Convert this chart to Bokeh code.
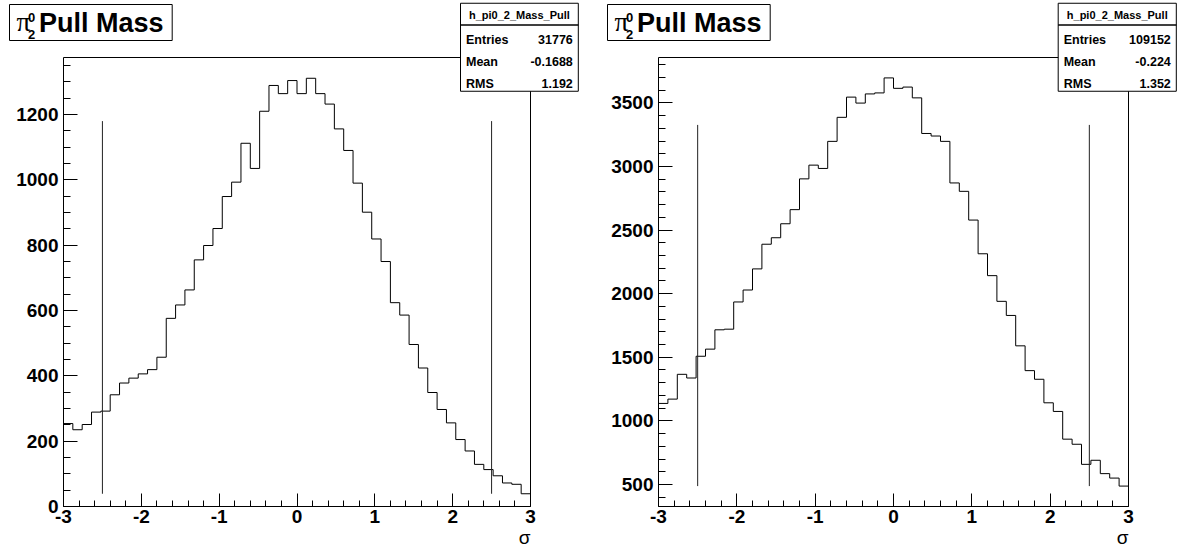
import numpy as np
from bokeh.plotting import figure
from bokeh.models import FixedTicker, Label, BoxAnnotation, Range1d
from bokeh.layouts import row
from bokeh.embed import file_html
from bokeh.resources import INLINE

# ---------------- data ----------------
x_lo, x_hi, n_bins = -3.0, 3.0, 50
counts_left = [254, 235, 251, 289, 292, 342, 378, 393, 406, 419,
               457, 576, 617, 663, 755, 799, 851, 949, 993, 1112,
               1035, 1210, 1289, 1264, 1304, 1264, 1311, 1264, 1232, 1156,
               1090, 990, 901, 819, 750, 624, 586, 496, 424, 349,
               297, 256, 205, 170, 129, 113, 94, 72, 68, 39]
counts_right = [1137, 1171, 1366, 1337, 1508, 1564, 1716, 1721, 1935, 2029,
                2195, 2389, 2440, 2550, 2661, 2903, 3011, 2985, 3198, 3387,
                3546, 3499, 3571, 3579, 3697, 3615, 3625, 3540, 3260, 3240,
                3198, 2871, 2805, 2579, 2314, 2142, 1940, 1829, 1590, 1395,
                1327, 1142, 1074, 856, 816, 658, 690, 585, 550, 487]
cut_positions = [-2.5, 2.5]
hist_name = "h_pi0_2_Mass_Pull"
stat_names = ["Entries", "Mean", "RMS"]
stats_left = ["31776", "-0.1688", "1.192"]
stats_right = ["109152", "-0.224", "1.352"]
x_ticks = [-3, -2, -1, 0, 1, 2, 3]
x_tick_labels = ["-3", "-2", "-1", "0", "1", "2", "3"]
y_ticks_left = [0, 200, 400, 600, 800, 1000, 1200]
y_ticks_right = [500, 1000, 1500, 2000, 2500, 3000, 3500]
title_main = "Pull Mass"
x_label = "σ"

FONT = "Liberation Sans"
W, H = 589, 550
F_TOP, F_BOT = 57, 506  # canvas y of data frame top / bottom


def make_panel(counts, yticks, ystep_minor, stats, fl, fr, title_x, stats_x, stats_w):
    edges = np.linspace(x_lo, x_hi, n_bins + 1)
    c = np.asarray(counts, dtype=float)
    cmin, cmax = c.min(), c.max()
    d = cmax - cmin
    ylo = cmin - 0.05 * d
    if ylo < 0:
        ylo = 0.0
    yhi = cmax + 0.05 * d

    xpp = (x_hi - x_lo) / (fr - fl)
    ypp = (yhi - ylo) / (F_BOT - F_TOP)
    xr = Range1d(x_lo - fl * xpp, x_hi + (W - fr) * xpp)
    yr = Range1d(ylo - (H - F_BOT) * ypp, yhi + F_TOP * ypp)

    p = figure(width=W, height=H, x_range=xr, y_range=yr,
               output_backend="svg", toolbar_location=None, min_border=0)
    p.title.visible = False
    p.background_fill_color = "white"
    p.border_fill_color = "white"
    p.outline_line_color = None
    p.xgrid.grid_line_color = None
    p.ygrid.grid_line_color = None

    # frame top and right edges
    p.segment(x0=[x_lo, x_hi], y0=[yhi, ylo], x1=[x_hi, x_hi], y1=[yhi, yhi],
              line_color="black", line_width=1)

    p.step(edges, np.append(c, c[-1]), mode="after", line_color="black", line_width=1)
    p.segment(x0=cut_positions, x1=cut_positions, y0=[cmin] * 2, y1=[0.9 * cmax] * 2,
              line_color="#222222", line_width=1)

    xminor = [round(v, 6) for v in np.arange(x_lo, x_hi + 1e-9, 0.2)]
    p.xaxis.ticker = FixedTicker(ticks=x_ticks, minor_ticks=xminor)
    p.xaxis.major_label_overrides = {t: s for t, s in zip(x_ticks, x_tick_labels)}
    ymin_t = [round(v, 6) for v in np.arange(0, yhi, ystep_minor) if v >= ylo]
    p.yaxis.ticker = FixedTicker(ticks=yticks, minor_ticks=ymin_t)
    p.xaxis.fixed_location = ylo
    p.yaxis.fixed_location = x_lo
    p.xaxis.bounds = (x_lo, x_hi)
    p.yaxis.bounds = (ylo, yhi)
    for ax in (p.xaxis[0], p.yaxis[0]):
        ax.axis_line_color = "black"
        ax.major_tick_line_color = "black"
        ax.minor_tick_line_color = "black"
        ax.major_tick_out = 0
        ax.minor_tick_out = 0
        ax.major_label_text_font = FONT
        ax.major_label_text_font_style = "bold"
        ax.major_label_text_font_size = "19px"
        ax.major_label_text_color = "black"
    p.xaxis.major_tick_in = 13
    p.xaxis.minor_tick_in = 6
    p.yaxis.major_tick_in = 14
    p.yaxis.minor_tick_in = 7
    p.xaxis.major_label_standoff = 3
    p.yaxis.major_label_standoff = 5

    def sy(cy):
        return H - cy

    def box(l, r, t, b):
        p.add_layout(BoxAnnotation(left=l, right=r, top=sy(t), bottom=sy(b),
                                   left_units="screen", right_units="screen",
                                   top_units="screen", bottom_units="screen",
                                   fill_color="white", fill_alpha=1.0,
                                   line_color="black", line_width=1, line_alpha=1.0,
                                   level="overlay"))

    def txt(cx, cy, s, size, style="bold", align="left", font=FONT):
        p.add_layout(Label(x=cx, y=sy(cy), x_units="screen", y_units="screen", text=s,
                           text_font=font, text_font_style=style, text_font_size=size,
                           text_align=align, text_baseline="middle", text_color="black",
                           level="overlay"))

    # title box
    box(title_x, title_x + 162.7, 4, 40)
    txt(title_x + 7, 20.5, "π", "28px", style="normal", font="Liberation Serif")
    txt(title_x + 18.5, 16.5, "0", "13px")
    txt(title_x + 18.5, 33.5, "2", "13px")
    txt(title_x + 29.5, 22, title_main, "27px")

    # stats box
    box(stats_x, stats_x + stats_w, 2.75, 90.75)
    box(stats_x, stats_x + stats_w, 24.5, 24.5)
    txt(stats_x + stats_w / 2, 14, hist_name, "11px", align="center")
    for i, (nm, v) in enumerate(zip(stat_names, stats)):
        cy = 39 + 22 * i
        txt(stats_x + 5.5, cy, nm, "12.5px")
        txt(stats_x + stats_w - 5.5, cy, v, "12.5px", align="right")

    # x axis label, right-aligned at the frame end
    txt(fr, 537, x_label, "19px", style="normal", align="right")
    return p


p1 = make_panel(counts_left, y_ticks_left, 50, stats_left, 63, 530, 9, 460, 117.8)
p2 = make_panel(counts_right, y_ticks_right, 100, stats_right, 69, 539, 18, 468.7, 118.1)

layout = row(p1, p2)
open("out.html", "w").write(file_html(layout, INLINE))
